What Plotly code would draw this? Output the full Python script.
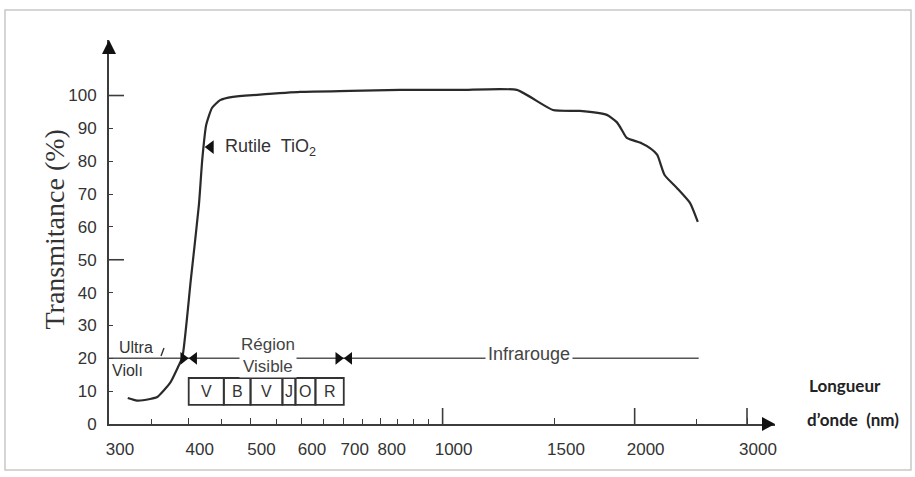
import numpy as np
import plotly.graph_objects as go

# ---- data -------------------------------------------------------------
# Transmission spectrum of rutile TiO2
wavelength_nm = [321, 332, 348, 357, 374, 385, 391, 403, 415, 420, 426, 435,
                 448, 469, 512, 598, 716, 858, 1065, 1307, 1489, 1641, 1809,
                 1875, 1910, 1944, 2050, 2114, 2170, 2228, 2331, 2442, 2512]
transmittance_pct = [7.9, 7.1, 7.6, 8.2, 12.5, 17.4, 20.4, 43.8, 66.7, 80.4,
                     91.0, 96.2, 98.6, 99.6, 100.2, 101.1, 101.4, 101.7, 101.7,
                     101.7, 95.6, 95.3, 94.1, 91.9, 89.5, 87.1, 85.5, 84.0,
                     81.9, 75.8, 71.8, 67.3, 61.5]

# x axis (wavelength, nm)
x_tick_nm = [300, 400, 500, 600, 700, 800, 1000, 1500, 2000, 3000]
x_minor_nm = [350, 450, 550, 650, 750, 850, 900, 950, 2500]
x_long_tick_nm = [1000, 2000, 3000]
# y axis (%)
y_tick_pct = [0, 10, 20, 30, 40, 50, 60, 70, 80, 90, 100]
y_long_tick_pct = [50, 100]

# spectral regions
region_level_pct = 20
uv_visible_edge_nm = 400
visible_ir_edge_nm = 700
region_line_end_nm = 2520
# colour bands of the visible range
band_edges_nm = [400, 454, 500, 561, 588, 632, 700]
band_labels = ["V", "B", "V", "J", "O", "R"]
band_low_pct, band_high_pct = 5.8, 14.0

# ---- layout geometry ----------------------------------------------------
W, H = 915, 477
ML, MR, MT, MB = 109, 140, 40, 53
PW, PH = W - ML - MR, H - MT - MB
X_MIN_NM = 300
PX_PER_DECADE = 638
X_MAX_NM = X_MIN_NM * 10 ** (PW / PX_PER_DECADE)
Y_MAX = 116.9

INK = "#2a2a2a"
AXIS = "#3c3c3c"
SANS = "Liberation Sans, Arial, sans-serif"


def shift_nm(nm, px):
    """Move a wavelength by a given number of pixels along the log axis."""
    return nm * 10 ** (px / PX_PER_DECADE)


def px_x(px):
    return (px - ML) / PW


def px_y(py):
    return (H - MB - py) / PH


fig = go.Figure()

# transmission curve
fig.add_trace(go.Scatter(
    x=wavelength_nm, y=transmittance_pct, mode="lines",
    line=dict(color=INK, width=2.2, shape="spline", smoothing=0.5),
    hoverinfo="skip", showlegend=False))

# region line at 20 %
fig.add_trace(go.Scatter(
    x=[X_MIN_NM, region_line_end_nm], y=[region_level_pct] * 2, mode="lines",
    line=dict(color="#555555", width=1.6), hoverinfo="skip", showlegend=False))

# bow-tie markers at the region boundaries
TRI = 11
r = TRI / 2
bx, bsym = [], []
for edge in (uv_visible_edge_nm, visible_ir_edge_nm):
    bx += [shift_nm(edge, -r), shift_nm(edge, r)]
    bsym += ["triangle-right", "triangle-left"]
fig.add_trace(go.Scatter(
    x=bx, y=[region_level_pct] * len(bx), mode="markers",
    marker=dict(symbol=bsym, size=TRI, color="#111111", line=dict(width=0)),
    hoverinfo="skip", showlegend=False, cliponaxis=False))

# long ticks on the wavelength axis
lt_x, lt_y = [], []
for v in x_long_tick_nm:
    lt_x += [v, v, None]
    lt_y += [0, 16 / PH * Y_MAX, None]
fig.add_trace(go.Scatter(x=lt_x, y=lt_y, mode="lines",
                         line=dict(color=AXIS, width=1.6),
                         hoverinfo="skip", showlegend=False))

# long ticks on the transmittance axis
for v in y_long_tick_pct:
    fig.add_shape(type="line", xref="x domain", yref="y", x0=0, x1=15 / PW,
                  y0=v, y1=v, line=dict(color=AXIS, width=1.6))

# visible colour bands
for lo, hi, lab in zip(band_edges_nm[:-1], band_edges_nm[1:], band_labels):
    fig.add_shape(type="rect", xref="x", yref="y", x0=lo, x1=hi,
                  y0=band_low_pct, y1=band_high_pct,
                  line=dict(color="#333333", width=1.8))
    fig.add_annotation(x=np.log10(np.sqrt(lo * hi)), y=(band_low_pct + band_high_pct) / 2,
                       text=lab, showarrow=False,
                       font=dict(family=SANS, size=16, color="#333333"))

# Rutile label with its pointer
rutile_level = 84.3
fig.add_trace(go.Scatter(
    x=[433], y=[rutile_level], mode="markers",
    marker=dict(symbol="triangle-left", size=12, color="#111111", line=dict(width=0)),
    hoverinfo="skip", showlegend=False))
fig.add_annotation(x=np.log10(452), y=rutile_level, text="Rutile  TiO<sub>2</sub>",
                   xanchor="left", showarrow=False,
                   font=dict(family=SANS, size=18, color="#333333"))

# region names
fig.add_annotation(x=np.log10(331), y=23.3, text="Ultra", showarrow=False,
                   font=dict(family=SANS, size=16, color="#333333"))
fig.add_shape(type="line", xref="paper", yref="paper",
              x0=px_x(161), y0=px_y(356), x1=px_x(164), y1=px_y(348),
              line=dict(color="#333333", width=1.4))
fig.add_annotation(x=np.log10(321), y=16.4, text="Violı", showarrow=False,
                   font=dict(family=SANS, size=16, color="#333333"))
fig.add_annotation(x=np.log10(532), y=21.0, text="Région<br>Visible",
                   showarrow=False, bgcolor="white", borderpad=1,
                   font=dict(family=SANS, size=17, color="#444444"))
fig.add_annotation(x=np.log10(1368), y=21.4, text="Infrarouge", showarrow=False,
                   bgcolor="white", borderpad=2,
                   font=dict(family=SANS, size=18, color="#444444"))

# axis titles
fig.add_annotation(xref="paper", yref="paper", x=px_x(36), y=px_y(230),
                   text="Transmitance (%)", textangle=-90, showarrow=False,
                   font=dict(family="Liberation Serif, Times New Roman, serif",
                             size=28, color="#333333"))
fig.add_annotation(xref="paper", yref="paper", x=px_x(807), y=px_y(398),
                   text="<b>Longueur</b>", xanchor="left", showarrow=False,
                   font=dict(family="Lato, Carlito, sans-serif", size=17, color="#222222"))
fig.add_annotation(xref="paper", yref="paper", x=px_x(805), y=px_y(432),
                   text="<b>d\u2019onde\u00a0\u00a0(nm)</b>", xanchor="left", showarrow=False,
                   font=dict(family="Lato, Carlito, sans-serif", size=17, color="#222222"))

# axis arrow heads
fig.add_shape(type="path", xref="paper", yref="paper",
              path=f"M {px_x(762)},{px_y(417)} L 1,0 L {px_x(762)},{px_y(431)} Z",
              fillcolor="#111111", line=dict(width=0))
fig.add_shape(type="path", xref="paper", yref="paper",
              path=f"M {px_x(102)},{px_y(54)} L 0,1 L {px_x(116)},{px_y(54)} Z",
              fillcolor="#111111", line=dict(width=0))

# outer frame
fig.add_shape(type="rect", xref="paper", yref="paper",
              x0=px_x(5), x1=px_x(911), y0=px_y(470), y1=px_y(10),
              line=dict(color="#c8c8c8", width=1.5), layer="below")

tickfont = dict(family=SANS, size=17, color="#333333")
fig.update_xaxes(
    type="log", range=[np.log10(X_MIN_NM), np.log10(X_MAX_NM)],
    showline=True, linecolor=AXIS, linewidth=2, showgrid=False, zeroline=False,
    ticks="inside", ticklen=6, tickwidth=1.4, tickcolor=AXIS,
    tickvals=x_tick_nm, ticktext=[str(v) for v in x_tick_nm],
    ticklabelshift=11, ticklabelstandoff=9, tickfont=tickfont,
    minor=dict(tickvals=x_minor_nm, ticks="inside", ticklen=5, tickwidth=1.3,
               tickcolor=AXIS, showgrid=False),
)
fig.update_yaxes(
    range=[0, Y_MAX], showline=True, linecolor=AXIS, linewidth=2,
    showgrid=False, zeroline=False,
    ticks="inside", ticklen=4, tickwidth=1.4, tickcolor=AXIS,
    tickvals=y_tick_pct, ticklabelstandoff=7, tickfont=tickfont,
)
fig.update_layout(
    width=W, height=H, margin=dict(l=ML, r=MR, t=MT, b=MB),
    paper_bgcolor="white", plot_bgcolor="white", showlegend=False,
)

fig.write_html("out.html")
